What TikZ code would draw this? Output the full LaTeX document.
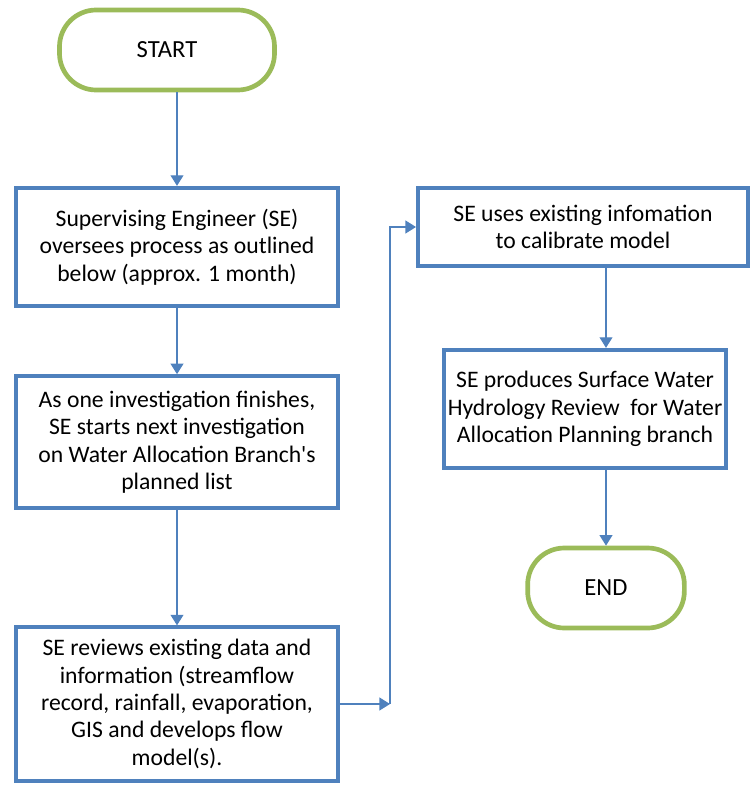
\documentclass[tikz,border=0pt]{standalone}
\usepackage{fontspec}
\setmainfont{Carlito}
\usetikzlibrary{arrows.meta}
\definecolor{boxblue}{HTML}{4F81BD}
\definecolor{termgreen}{HTML}{9BBB59}

\begin{document}
\begin{tikzpicture}[
    x=0.03cm, y=-0.03cm,
    term/.style={draw=termgreen, line width=4pt, rounded corners=1.1cm, align=center, font=\fontsize{21}{24}\selectfont},
    box/.style={draw=boxblue, line width=3.4pt, align=center, font=\fontsize{20.2}{23.4}\selectfont},
    arr/.style={-{Triangle[length=9pt, width=11pt]}, draw=boxblue, line width=1.1pt}
]
\useasboundingbox (0,0) rectangle (753,788);
\node[term, minimum width=6.45cm, minimum height=2.4cm] (start) at (167,50) {START};
\node[box, minimum width=9.65cm, minimum height=3.55cm] (sup) at (177,247) {Supervising Engineer (SE)\\oversees process as outlined\\below (approx. 1 month)};
\node[box, minimum width=9.65cm, minimum height=3.95cm] (nxt) at (177,442) {As one investigation finishes,\\SE starts next investigation\\on Water Allocation Branch\textquotesingle s\\planned list};
\node[box, minimum width=9.65cm, minimum height=4.6cm] (rev) at (177,704) {SE reviews existing data and\\information (streamflow\\record, rainfall, evaporation,\\GIS and develops flow\\model(s).};
\node[box, minimum width=9.9cm, minimum height=2.35cm] (cal) at (583,227) {SE uses existing infomation\\to calibrate model};
\node[box, minimum width=8.4cm, minimum height=3.55cm] (prod) at (585,409) {SE produces Surface Water\\Hydrology Review\ \ for Water\\Allocation Planning branch};
\node[term, minimum width=4.7cm, minimum height=2.4cm] (fin) at (606,588) {END};
\coordinate (turn) at (390,704);

\draw[arr] (start.south -| sup.north) -- (sup.north);
\draw[arr] (sup) -- (nxt);
\draw[arr] (nxt) -- (rev);
\draw[arr] (rev.east) -- (turn);
\draw[arr] (turn) |- (cal.west);
\draw[arr] (cal.south -| fin.north) -- (prod.north -| fin.north);
\draw[arr] (prod.south -| fin.north) -- (fin.north);
\end{tikzpicture}
\end{document}
